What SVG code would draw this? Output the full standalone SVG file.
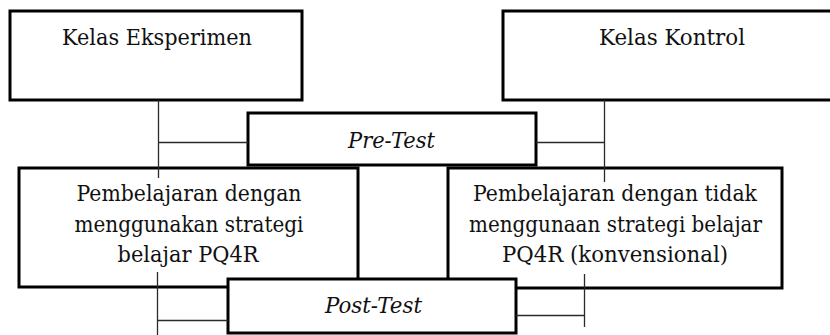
<svg xmlns="http://www.w3.org/2000/svg" width="830" height="335" viewBox="0 0 830 335">
<defs>
<style type="text/css">
.box{fill:#fff;stroke:#000;stroke-width:3}
.c{stroke:#2a2a2a;stroke-width:1.3;fill:none}
</style>
</defs>
<rect width="830" height="335" fill="#fff"/>
<g font-family="'DejaVu Serif', serif" font-size="23" fill="#111" text-anchor="middle">
<g id="kelas-eksperimen">
<rect class="box" x="10" y="11" width="292" height="89"/>
<text x="157" y="45" textLength="190" lengthAdjust="spacingAndGlyphs">Kelas Eksperimen</text>
</g>
<g id="kelas-kontrol">
<rect class="box" x="503" y="11" width="340" height="89"/>
<text x="672" y="45" textLength="146" lengthAdjust="spacingAndGlyphs">Kelas Kontrol</text>
</g>
<g id="pembelajaran-pq4r">
<rect class="box" x="19" y="168" width="339" height="119"/>
<text x="189" y="201" textLength="225" lengthAdjust="spacingAndGlyphs">Pembelajaran dengan</text>
<text x="189" y="231.5" textLength="229" lengthAdjust="spacingAndGlyphs">menggunakan strategi</text>
<text x="188" y="262" textLength="141" lengthAdjust="spacingAndGlyphs">belajar PQ4R</text>
</g>
<g id="pembelajaran-konvensional">
<rect class="box" x="448" y="168" width="334" height="120"/>
<text x="615" y="201" textLength="284" lengthAdjust="spacingAndGlyphs">Pembelajaran dengan tidak</text>
<text x="615.5" y="231.5" textLength="293" lengthAdjust="spacingAndGlyphs">menggunaan strategi belajar</text>
<text x="615" y="262" textLength="226" lengthAdjust="spacingAndGlyphs">PQ4R (konvensional)</text>
</g>
<g id="pre-test">
<rect class="box" x="248" y="113" width="288" height="52"/>
<text x="391.5" y="148" font-style="italic" textLength="87" lengthAdjust="spacingAndGlyphs">Pre-Test</text>
</g>
<g id="post-test">
<rect class="box" x="228" y="279" width="288" height="54"/>
<text x="373.5" y="313" font-style="italic" textLength="97" lengthAdjust="spacingAndGlyphs">Post-Test</text>
</g>
</g>
<g id="connectors">
<path class="c" d="M158.5 100V178M158.5 142.5H248"/>
<path class="c" d="M604.5 100V182M536 142.5H604.5"/>
<path class="c" d="M157.5 272V335M157.5 320.5H228"/>
<path class="c" d="M584.5 274V327M516 315.5H584.5"/>
</g>
</svg>
